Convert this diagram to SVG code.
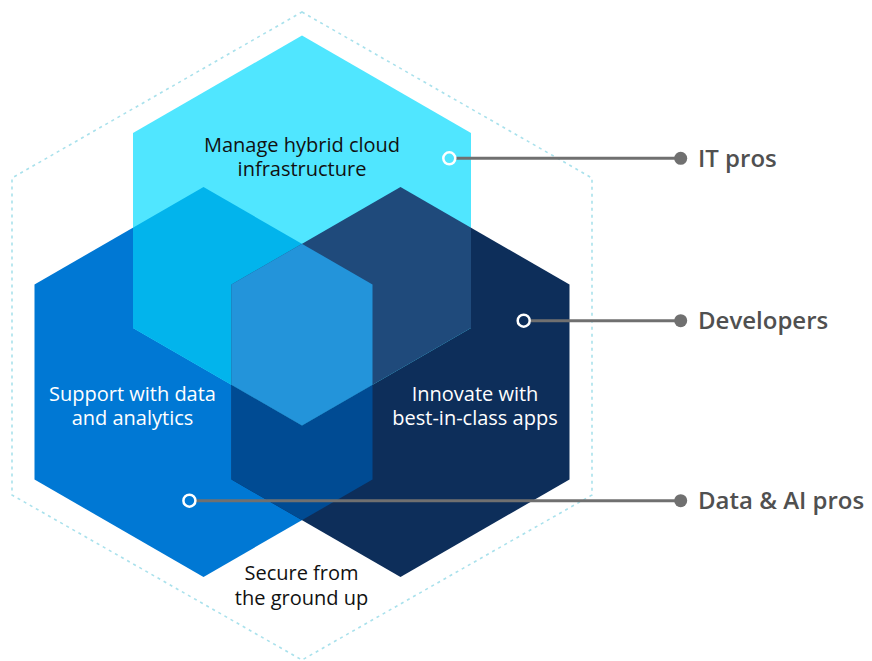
<svg xmlns="http://www.w3.org/2000/svg" width="872" height="661" viewBox="0 0 872 661">
<style>
.lbl{font-family:"Open Sans","Noto Sans",sans-serif;font-size:20px;font-weight:500;text-anchor:middle}
.dark{fill:#111111}
.light{fill:#ffffff}
.aud{font-family:"Open Sans","Noto Sans",sans-serif;font-size:24px;font-weight:600;fill:#505050}
.conn{stroke:#707070;stroke-width:3;fill:none}
.dot{fill:#707070}
.ring{fill:none;stroke:#ffffff;stroke-width:2.5}
</style>
<defs>
<clipPath id="cBlue"><polygon points="203.5,187 372.5,284.5 372.5,479.5 203.5,577 34.5,479.5 34.5,284.5"/></clipPath>
<clipPath id="cNavy"><polygon points="400.5,187 569.5,284.5 569.5,479.5 400.5,577 231.5,479.5 231.5,284.5"/></clipPath>
</defs>
<rect width="872" height="661" fill="#ffffff"/>
<g id="outline">
<polygon points="302,12 592,178 592,495 302,660 12,495 12,178" fill="none" stroke="#a9e1ec" stroke-width="1.6" stroke-dasharray="3 4"/>
</g>
<g id="hex-data">
<polygon points="203.5,187 372.5,284.5 372.5,479.5 203.5,577 34.5,479.5 34.5,284.5" fill="#0078d4"/>
</g>
<g id="hex-apps">
<polygon points="400.5,187 569.5,284.5 569.5,479.5 400.5,577 231.5,479.5 231.5,284.5" fill="#0d2e5a"/>
</g>
<g id="hex-infra">
<polygon points="302,35.5 471,133 471,328 302,425.5 133,328 133,133" fill="#50e6ff"/>
</g>
<g id="overlaps">
<g clip-path="url(#cBlue)"><polygon points="400.5,187 569.5,284.5 569.5,479.5 400.5,577 231.5,479.5 231.5,284.5" fill="#004b93"/></g>
<g clip-path="url(#cBlue)"><polygon points="302,35.5 471,133 471,328 302,425.5 133,328 133,133" fill="#02b4ec"/></g>
<g clip-path="url(#cNavy)"><polygon points="302,35.5 471,133 471,328 302,425.5 133,328 133,133" fill="#1f4a7b"/></g>
<g clip-path="url(#cBlue)"><g clip-path="url(#cNavy)"><polygon points="302,35.5 471,133 471,328 302,425.5 133,328 133,133" fill="#2394da"/></g></g>
</g>
<g id="labels">
<text class="lbl dark" x="302" y="152">Manage hybrid cloud</text>
<text class="lbl dark" x="302" y="176">infrastructure</text>
<text class="lbl light" x="132.5" y="400.5">Support with data</text>
<text class="lbl light" x="132.5" y="424.5">and analytics</text>
<text class="lbl light" x="475" y="400.5">Innovate with</text>
<text class="lbl light" x="475" y="424.5">best-in-class apps</text>
<text class="lbl dark" x="301.5" y="580">Secure from</text>
<text class="lbl dark" x="301.5" y="605">the ground up</text>
</g>
<g id="connectors">
<line class="conn" x1="456" y1="158.3" x2="680" y2="158.3"/>
<line class="conn" x1="530.5" y1="320.7" x2="680" y2="320.7"/>
<line class="conn" x1="196" y1="500.7" x2="680" y2="500.7"/>
<circle class="ring" cx="449.3" cy="158.3" r="6"/>
<circle class="ring" cx="523.7" cy="320.7" r="6"/>
<circle class="ring" cx="189.4" cy="500.7" r="6" stroke="#eeeeee"/>
<circle class="dot" cx="680.7" cy="158.3" r="6.5"/>
<circle class="dot" cx="680.7" cy="320.7" r="6.5"/>
<circle class="dot" cx="680.7" cy="500.7" r="6.5"/>
</g>
<g id="audience-it">
<text class="aud" x="698" y="166.5">IT pros</text>
</g>
<g id="audience-dev">
<text class="aud" x="698" y="328.5">Developers</text>
</g>
<g id="audience-data">
<text class="aud" x="698" y="508.5">Data &amp; AI pros</text>
</g>
</svg>
